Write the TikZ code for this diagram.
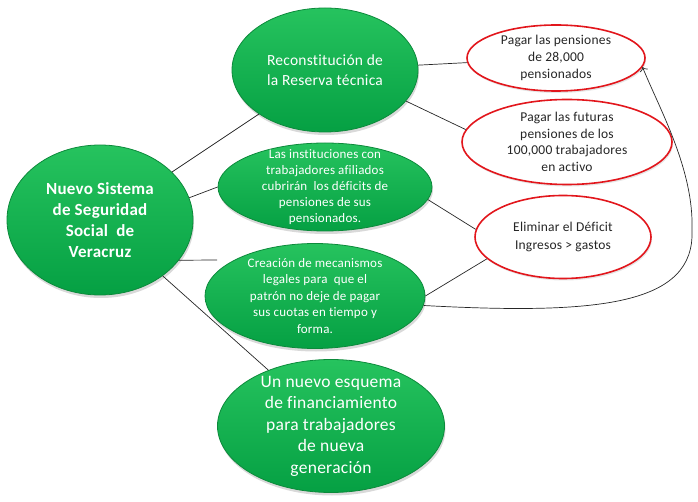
\documentclass[tikz,border=0pt]{standalone}
\usepackage{fontspec}
\setmainfont{Carlito}[Ligatures=NoCommon, LetterSpace=1.5]
\usepackage{tikz}
\usetikzlibrary{shapes.geometric, shadows, arrows.meta}
\definecolor{ovaltop}{HTML}{26C35E}
\definecolor{ovalbottom}{HTML}{05A043}
\definecolor{ovalrim}{HTML}{0C8A3B}
\definecolor{goalred}{HTML}{E2161C}
\tikzset{
    greenoval/.style={ellipse, draw=ovalrim, line width=0.8pt, top color=ovaltop, bottom color=ovalbottom,
        text=white, align=center, inner sep=-8pt,
        drop shadow={opacity=0.3, shadow xshift=1pt, shadow yshift=-3pt}},
    redoval/.style={ellipse, draw=goalred, line width=1.6pt, fill=white, text=black!85,
        align=center, inner sep=-8pt,
        drop shadow={opacity=0.2, shadow xshift=1pt, shadow yshift=-2pt}},
    link/.style={draw=black!85, line width=0.7pt}
}

\begin{document}
\begin{tikzpicture}[x=1pt, y=-1pt]
    \useasboundingbox (0,0) rectangle (698,502);
    \node[greenoval, minimum width=186pt, minimum height=150pt,
        font=\fontsize{17}{21}\selectfont\bfseries] (N) at (100,220)
        {Nuevo Sistema\\de Seguridad\\Social\ \ de\\Veracruz};
    \node[greenoval, minimum width=186pt, minimum height=124pt,
        font=\fontsize{15.5}{20}\selectfont] (R) at (325,70)
        {Reconstitución de\\la Reserva técnica};
    \node[greenoval, minimum width=214pt, minimum height=88pt,
        font=\fontsize{13}{16}\selectfont] (I) at (325,187)
        {Las instituciones con\\trabajadores afiliados\\cubrirán\ \ los déficits de\\pensiones de sus\\pensionados.};
    \node[greenoval, minimum width=220pt, minimum height=105pt,
        font=\fontsize{13}{16.5}\selectfont] (C) at (315,296)
        {Creación de mecanismos\\legales para\ \ que el\\patrón no deje de pagar\\sus cuotas en tiempo y\\forma.};
    \node[greenoval, minimum width=227pt, minimum height=133pt,
        font=\fontsize{17.5}{21.5}\selectfont] (U) at (331,426)
        {Un nuevo esquema\\de financiamiento\\para trabajadores\\de nueva\\generación};
    \node[redoval, minimum width=178pt, minimum height=66pt,
        font=\fontsize{13.5}{17}\selectfont] (P_1) at (556,58)
        {Pagar las pensiones\\de 28,000\\pensionados};
    \node[redoval, minimum width=210pt, minimum height=85pt,
        font=\fontsize{13.5}{16.5}\selectfont] (P_2) at (567,142)
        {Pagar las futuras\\pensiones de los\\100,000 trabajadores\\en activo};
    \node[redoval, minimum width=176pt, minimum height=83pt,
        font=\fontsize{13.5}{18}\selectfont] (E) at (563,237)
        {Eliminar el Déficit\\Ingresos > gastos};
    \coordinate (C_gap) at (217,260);
    \draw[link] (N) -- (R);
    \draw[link] (N.14) -- (I.west);
    \draw[link] (N.-27) -- (C_gap);
    \draw[link] (N) -- (U);
    \draw[link] (R) -- (P_1);
    \draw[link] (R.-21) -- (P_2.173);
    \draw[link] (I.-7) -- (E.175);
    \draw[link] (C.east) -- (E.196);
    \draw[link, -{To[length=4pt]}] (C.-5) .. controls (600,315) and (695,305) .. (692,230)
        .. controls (694,170) and (660,110) .. (P_1.-6);
\end{tikzpicture}
\end{document}
